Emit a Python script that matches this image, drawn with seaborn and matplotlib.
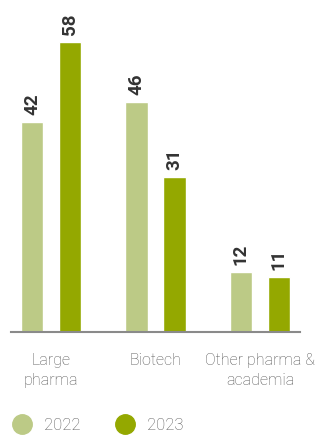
import pandas as pd
import seaborn as sns
import matplotlib.pyplot as plt
from matplotlib.lines import Line2D

# datos
categories = ['Large\npharma', 'Biotech', 'Other pharma &\nacademia']
years = ['2022', '2023']
values_2022 = [42, 46, 12]
values_2023 = [58, 31, 11]
colors = ['#BCCA86', '#94A800']

df = pd.DataFrame({
    'category': categories * 2,
    'year': [years[0]] * 3 + [years[1]] * 3,
    'value': values_2022 + values_2023,
})

sns.set_style('white')
plt.rcParams['font.family'] = ['Roboto', 'DejaVu Sans']

fig = plt.figure(figsize=(3.16, 4.36), dpi=100)
ax = fig.add_axes([11 / 316, 104 / 436, 289 / 316, 300 / 436])

sns.barplot(data=df, x='category', y='value', hue='year', palette=colors,
            width=0.727, gap=0.42, ax=ax, legend=False, saturation=1)

for cont in ax.containers:
    ax.bar_label(cont, rotation=90, padding=5, fontsize=13.5, fontweight='bold',
                 color='#333333', clip_on=False)

ax.set_xlim(-0.383, 2.383)
ax.set_ylim(0, 60)
ax.set_xlabel('')
ax.set_ylabel('')
ax.set_yticks([])
for s in ['top', 'right', 'left']:
    ax.spines[s].set_visible(False)
ax.spines['bottom'].set_color('#8a8a8a')
ax.spines['bottom'].set_linewidth(1.5)
ax.tick_params(axis='x', length=0, pad=15, labelsize=11.5, labelcolor='#555555')
for t in ax.get_xticklabels():
    t.set_fontweight('light')
    t.set_linespacing(1.45)

handles = [Line2D([], [], marker='o', linestyle='', markersize=14,
                  markerfacecolor=c, markeredgecolor=c) for c in colors]
leg = fig.legend(handles, years, loc='center left', bbox_to_anchor=(9 / 316, 11 / 436),
                 ncol=2, frameon=False, fontsize=12, handletextpad=0.7,
                 handlelength=1.2, columnspacing=2.1, borderaxespad=0.0,
                 borderpad=0.2)
for t in leg.get_texts():
    t.set_color('#555555')
    t.set_fontweight('light')

fig.savefig('out.png', dpi=100)
